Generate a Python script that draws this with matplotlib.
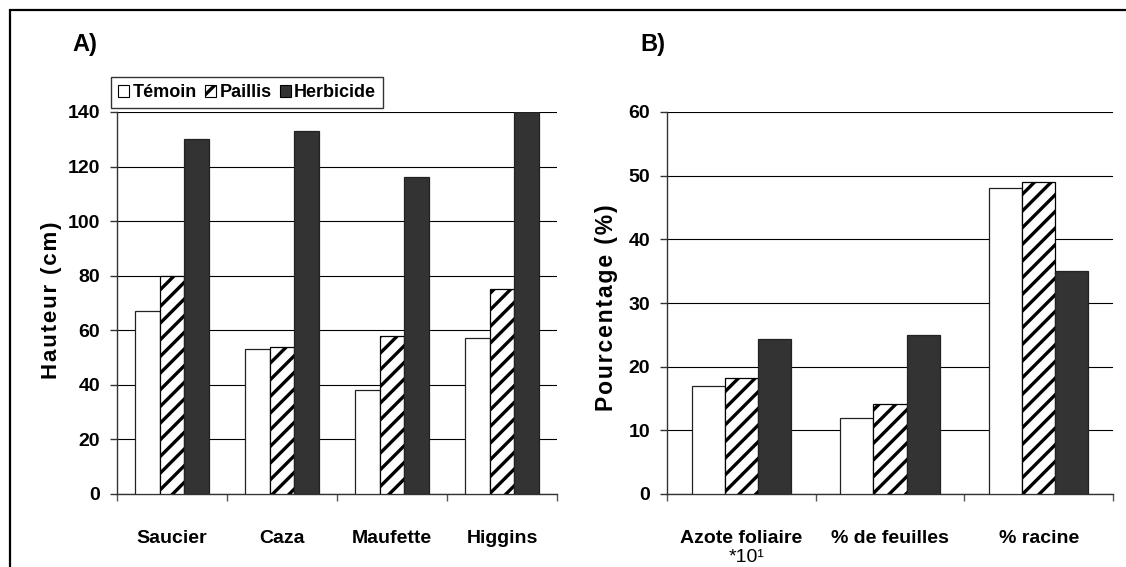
import matplotlib
matplotlib.use("Agg")
import matplotlib.pyplot as plt
from matplotlib.patches import Patch, Rectangle
import numpy as np

# --- data -------------------------------------------------------------
series = ["Témoin", "Paillis", "Herbicide"]

sites = ["Saucier", "Caza", "Maufette", "Higgins"]
hauteur_temoin = [67, 53, 38, 57]
hauteur_paillis = [80, 54, 58, 75]
hauteur_herbicide = [130, 133, 116, 140]

variables = ["Azote foliaire", "% de feuilles", "% racine"]
pct_temoin = [17, 12, 48]
pct_paillis = [18.2, 14.1, 49]
pct_herbicide = [24.3, 25, 35]

# --- style ------------------------------------------------------------
W, H = 1126, 567
DPI = 100
SANS = ["Liberation Sans", "DejaVu Sans"]
plt.rcParams["hatch.linewidth"] = 2.4
plt.rcParams["hatch.color"] = "black"

styles = [
    dict(facecolor="white", edgecolor="#222222", hatch=None),
    dict(facecolor="white", edgecolor="black", hatch="//"),
    dict(facecolor="#333333", edgecolor="#222222", hatch=None),
]


def spaced(s):
    return "\u200a".join(s)


def px_x(x):
    return x / W


def px_y(y):
    return 1 - y / H


fig = plt.figure(figsize=(W / DPI, H / DPI), dpi=DPI)

# outer frame of the figure
fig.patches.append(Rectangle((px_x(10), -0.1), 1.2, px_y(10) + 0.1,
                             transform=fig.transFigure, fill=False,
                             edgecolor="black", linewidth=1.6, zorder=10))


def panel(left, right, cats, values, ymax, ystep):
    ax = fig.add_axes([px_x(left), px_y(494), px_x(right - left),
                       (494 - 112) / H])
    n = len(cats)
    x = np.arange(n)
    w = 1 / 4.5
    for i, (vals, st) in enumerate(zip(values, styles)):
        ax.bar(x + (i - 1) * w, vals, width=w, facecolor=st["facecolor"],
               edgecolor=st["edgecolor"], hatch=st["hatch"], linewidth=0.9,
               zorder=3)
    ax.set_xlim(-0.5, n - 0.5)
    ax.set_ylim(0, ymax)
    ax.set_yticks(np.arange(0, ymax + 1, ystep))
    ax.yaxis.grid(True, color="black", linewidth=0.8, zorder=0)
    ax.set_axisbelow(True)
    for s in ("top", "right"):
        ax.spines[s].set_visible(False)
    for s in ("left", "bottom"):
        ax.spines[s].set_color("#333333")
        ax.spines[s].set_linewidth(1.0)
    # boundary ticks between categories, labels at category centres
    ax.set_xticks(np.arange(-0.5, n, 1.0))
    ax.set_xticklabels([])
    ax.set_xticks(x, minor=True)
    ax.set_xticklabels(cats, minor=True, fontfamily=SANS,
                       fontweight="bold", fontsize=14)
    ax.tick_params(axis="x", which="major", length=5, direction="out",
                   color="#555555", width=1.0)
    ax.tick_params(axis="x", which="minor", length=0, pad=26)
    ax.tick_params(axis="y", length=5, direction="out", color="#333333",
                   width=1.0, pad=7)
    for lab in ax.get_yticklabels():
        lab.set_fontfamily(SANS)
        lab.set_fontweight("bold")
        lab.set_fontsize(14)
    ax.patch.set_alpha(0)
    return ax


axA = panel(117, 557, sites,
            [hauteur_temoin, hauteur_paillis, hauteur_herbicide], 140, 20)
axB = panel(667, 1113, variables,
            [pct_temoin, pct_paillis, pct_herbicide], 60, 10)

# second line under the nitrogen category
fig.text(px_x(747), px_y(557), "*10¹", ha="center", va="center",
         fontfamily=SANS, fontsize=14)

# axis titles
fig.text(px_x(52), px_y(300), spaced("Hauteur (cm)"), rotation=90,
         ha="center", va="center", fontfamily=SANS, fontweight="bold",
         fontsize=16)
fig.text(px_x(607), px_y(308), spaced("Pourcentage (%)"), rotation=90,
         ha="center", va="center", fontfamily=SANS, fontweight="bold",
         fontsize=16.5)

# panel letters
fig.text(px_x(72), px_y(44), "A)", ha="left", va="center",
         fontfamily=SANS, fontweight="bold", fontsize=17)
fig.text(px_x(640), px_y(44), "B)", ha="left", va="center",
         fontfamily=SANS, fontweight="bold", fontsize=17)

# legend above panel A
handles = [Patch(facecolor=st["facecolor"], edgecolor="black",
                 hatch=st["hatch"], linewidth=0.8) for st in styles]
leg = fig.legend(handles, series, loc="upper left",
                 bbox_to_anchor=(px_x(111), px_y(77)), ncol=3,
                 frameon=True, fancybox=False, shadow=False,
                 prop=dict(family=SANS, weight="bold", size=13),
                 handlelength=0.6, handleheight=0.6, handletextpad=0.2,
                 columnspacing=0.45, borderpad=0.4, borderaxespad=0)
leg.get_frame().set_edgecolor("black")
leg.get_frame().set_linewidth(1.0)

fig.savefig("out.png", dpi=DPI)
